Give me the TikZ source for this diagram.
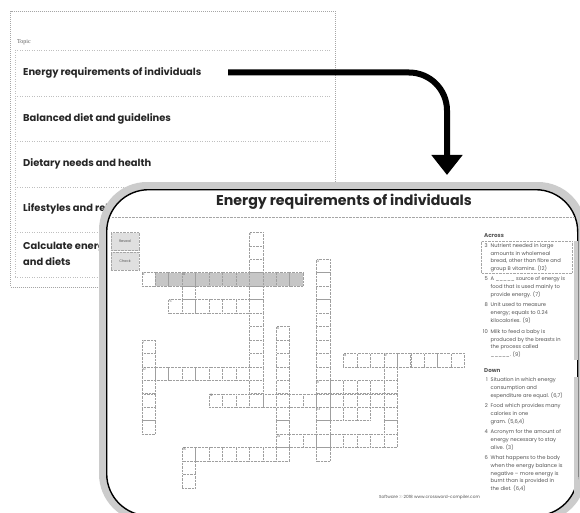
\documentclass[tikz,border=0pt]{standalone}
\usepackage{fontspec}
\setmainfont{Poppins}
\newfontfamily\topicserif{Liberation Serif}
\usetikzlibrary{arrows.meta}
\newcommand{\clue}[4]{%
  \node[clue, anchor=north east] (#1n) at (488,#2) {#3};
  \node[clue] (#1) at (490.5,#2) {#4};}

\begin{document}
\begin{tikzpicture}[x=1pt, y=-1pt,
  sq/.style={draw=gray!75, densely dotted, fill=white, minimum size=13.4pt, inner sep=0pt},
  hl/.style={sq, fill=gray!45},
  num/.style={font=\fontsize{3.2}{3.2}\selectfont, text=gray!70!black, inner sep=0.9pt, anchor=north west},
  topic/.style={font=\fontsize{9.9}{16}\selectfont\bfseries, text=black!85, anchor=west, align=left, inner sep=0pt},
  clue/.style={font=\fontsize{5.2}{7.7}\selectfont, text=gray!65!black, anchor=north west, align=left, inner sep=0pt},
  btn/.style={draw=gray!70, densely dotted, fill=gray!25, minimum width=28.6pt, minimum height=18pt, inner sep=0pt, font=\fontsize{3.6}{4}\selectfont, text=gray!70!black}]
\useasboundingbox (0,0) rectangle (580,513);

\node[draw=gray!70, densely dotted, line width=1pt, minimum width=325pt, minimum height=275pt, anchor=north west, inner sep=0pt] (topics) at (10,11.5) {};
\node[font=\topicserif\fontsize{6}{7}\selectfont, text=gray!70!black, anchor=west, inner sep=0pt] (topichead) at (17,42) {Topic};
\draw[gray!50, dotted] (15,50) -- (15,276.7);
\foreach \y in {50,96.7,141.7,186.7,231.7,276.7}
  \draw[gray!50, dotted] (15,\y) -- (330,\y);
\node[topic] (t1) at (23,73) {Energy requirements of individuals};
\node[topic] (t2) at (23,118.5) {Balanced diet and guidelines};
\node[topic] (t3) at (23,164) {Dietary needs and health};
\node[topic] (t4) at (23,209) {Lifestyles and religion};
\node[topic] (t5) at (23,254) {Calculate energy\\and diets};

\coordinate (a0) at (228,72.5);
\coordinate (a1) at (447,175);
\draw[line width=6pt, rounded corners=38pt, -{Triangle[width=30pt,length=20pt]}] (a0) -| (a1);

\fill[gray!40, rounded corners=48pt] (99,182) rectangle (586,522);
\node[draw, line width=1.4pt, fill=white, rounded corners=42pt, minimum width=471pt, minimum height=326pt, anchor=north west, inner sep=0pt] (panel) at (106,189) {};
\node[font=\fontsize{14.2}{16}\selectfont\bfseries, text=black!85] (title) at (344,202) {Energy requirements of individuals};
\draw[gray!70, densely dotted] (112,217) -- (575,217);

\node[btn] (reveal) at (125,241.5) {Reveal};
\node[btn] (check) at (125,261.2) {Check};

\foreach \c/\r/\n in {0/3/12, 2/5/7, 15/9/9, 0/10/9, 13/11/6, 5/12/14, 13/13/4, 10/15/9, 3/16/8}{
  \foreach \i in {1,...,\n}{
    \pgfmathtruncatemacro\cc{\c+\i-1}
    \node[sq] (c-\cc-\r) at ({148.4+13.45*\cc},{239+13.45*\r}) {};
  }
}
\foreach \c/\r/\n in {8/0/13, 13/2/15, 3/3/3, 10/7/10, 0/8/7, 18/9/7, 3/16/3}{
  \foreach \i in {1,...,\n}{
    \pgfmathtruncatemacro\rr{\r+\i-1}
    \node[sq] (c-\c-\rr) at ({148.4+13.45*\c},{239+13.45*\rr}) {};
  }
}
\foreach \cc in {1,...,11}
  \node[hl] (h-\cc) at (c-\cc-3) {};
\foreach \c/\r/\k in {8/0/1, 13/2/2, 0/3/3, 3/3/4, 2/5/5, 10/7/6, 0/8/7, 15/9/8, 18/9/9, 0/10/10, 13/11/11, 5/12/12, 13/13/13, 10/15/14, 3/16/15}
  \node[num] (n-\k) at (c-\c-\r.north west) {\k};

\node[clue, anchor=west, font=\fontsize{5.6}{7}\selectfont\bfseries] (across) at (484,236) {Across};
\draw[gray!70, densely dotted] (481,241.5) rectangle (572,273);
\clue{a3}{243.2}{3}{Nutrient needed in large\\amounts in wholemeal\\bread, other than fibre and\\group B vitamins. (12)}
\clue{a5}{276.8}{5}{A \_\_\_\_\_ source of energy is\\food that is used mainly to\\provide energy. (7)}
\clue{a8}{302.8}{8}{Unit used to measure\\energy; equals to 0.24\\kilocalories. (9)}
\clue{a10}{329.2}{10}{Milk to feed a baby is\\produced by the breasts in\\the process called\\\_\_\_\_\_. (9)}
\fill[gray!40] (573.5,241) rectangle (577.5,360);

\node[clue, anchor=west, font=\fontsize{5.6}{7}\selectfont\bfseries] (down) at (484,370.7) {Down};
\clue{d1}{377.8}{1}{Situation in which energy\\consumption and\\expenditure are equal. (6,7)}
\clue{d2}{403.8}{2}{Food which provides many\\calories in one\\gram. (5,6,4)}
\clue{d4}{429.8}{4}{Acronym for the amount of\\energy necessary to stay\\alive. (3)}
\clue{d6}{455.8}{6}{What happens to the body\\when the energy balance is\\negative -- more energy is\\burnt than is provided in\\the diet. (6,4)}
\fill[gray!40] (573.5,377) rectangle (577.5,493);

\node[font=\fontsize{4.3}{5}\selectfont, text=gray!65!black] (foot) at (429.5,497) {Software © 2018 www.crossword-compiler.com};
\end{tikzpicture}
\end{document}
